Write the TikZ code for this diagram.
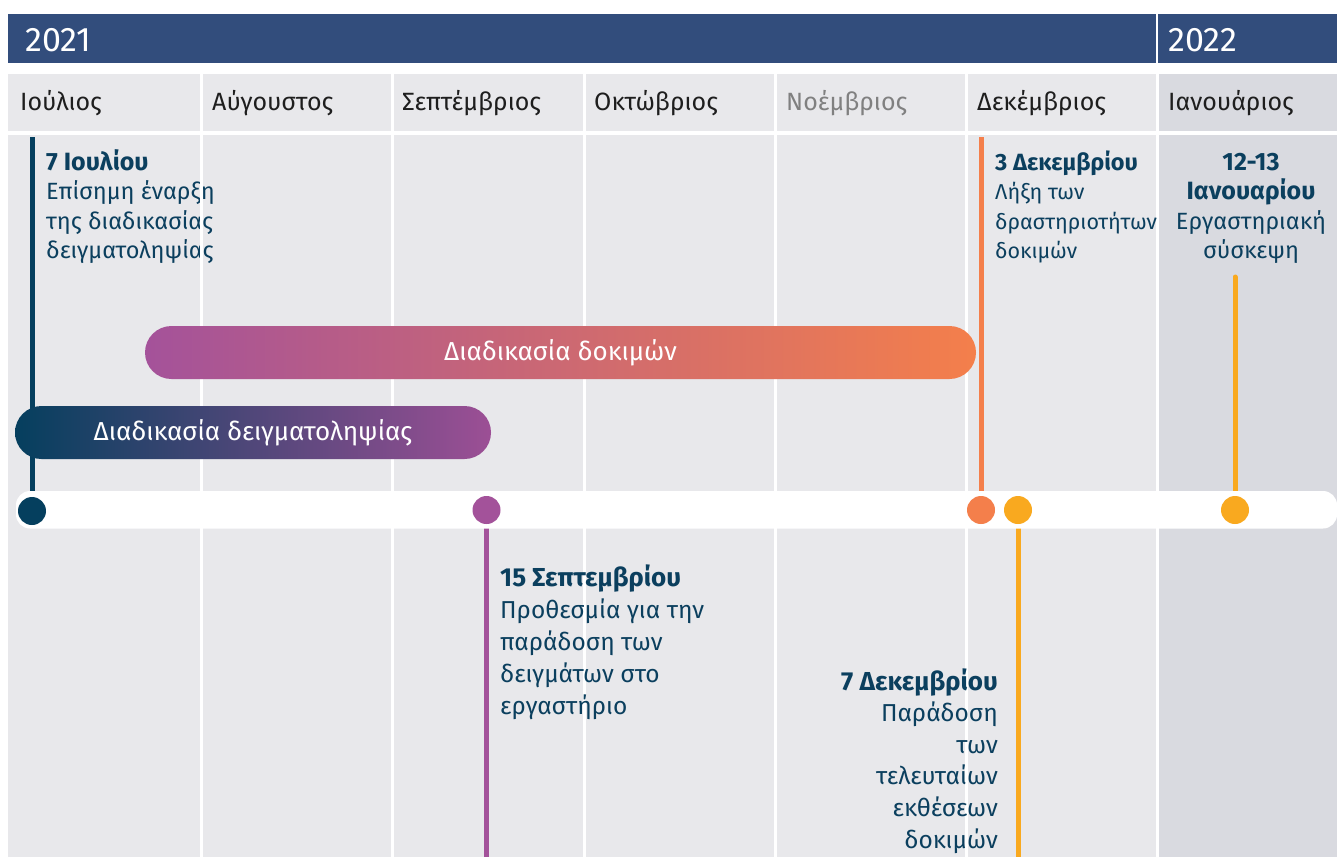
\documentclass[tikz,border=0pt]{standalone}
\usepackage{fontspec}
\setmainfont{Fira Sans}
\definecolor{hdr}{HTML}{324D7C}
\definecolor{bgc}{HTML}{E8E8EB}
\definecolor{janc}{HTML}{D9DAE0}
\definecolor{tdark}{HTML}{0B3F5E}
\definecolor{mtext}{HTML}{1E1E1E}
\definecolor{novtext}{HTML}{808080}
\definecolor{cdark}{HTML}{053F5E}
\definecolor{cpurple}{HTML}{A3529A}
\definecolor{corange}{HTML}{F47F4B}
\definecolor{cyellow}{HTML}{F9A91F}
\definecolor{bartwoR}{HTML}{9C4F95}
\definecolor{baroneL}{HTML}{A4529A}
\newcommand\blockL[2]{\vtop{\baselineskip=#1\lineskiplimit=-100pt\lineskip=0pt\halign{##\hfil\cr#2\crcr}}}
\newcommand\blockR[2]{\vtop{\baselineskip=#1\lineskiplimit=-100pt\lineskip=0pt\halign{\hfil##\cr#2\crcr}}}
\newcommand\blockC[2]{\vtop{\baselineskip=#1\lineskiplimit=-100pt\lineskip=0pt\halign{\hfil##\hfil\cr#2\crcr}}}
\newcommand\hdA[1]{{\fontsize{25}{29.5}\selectfont\bfseries #1}}
\newcommand\hdB[1]{{\fontsize{23.5}{29.5}\selectfont\bfseries #1}}
\newcommand\hdD[1]{{\fontsize{26}{32}\selectfont\bfseries #1}}
\begin{document}
\begin{tikzpicture}[x=1pt,y=-1pt,
  month/.style={anchor=base west, inner sep=0pt, text=mtext, font=\fontsize{25}{30}\selectfont},
  year/.style={anchor=base west, inner sep=0pt, text=white, font=\fontsize{34}{40}\selectfont},
  evtop/.style={inner sep=0pt, text=tdark, font=\fontsize{23.5}{29.5}\selectfont},
  evtopB/.style={inner sep=0pt, text=tdark, font=\fontsize{21.5}{29.5}\selectfont},
  evbot/.style={inner sep=0pt, text=tdark, font=\fontsize{24.5}{31.6}\selectfont},
  sepline/.style={white, line width=3pt},
  stem/.style={line width=5pt},
  dotnode/.style={circle, inner sep=0pt, minimum size=28pt},
  bar/.style={inner sep=0pt, rounded corners=26.5pt, minimum height=53pt, text=white, font=\fontsize{26}{30}\selectfont}]
\useasboundingbox (0,0) rectangle (1337,857);
% header bar
\fill[hdr] (8,14) rectangle (1337,62.5);
\draw[white, line width=2.5pt] (1157,14) -- (1157,62.5);
\node[year] (y21) at (25,51) {2021};
\node[year] (y22) at (1168,51) {2022};
% month row and body
\fill[bgc] (8,74) rectangle (1337,130.5);
\fill[janc] (1157,74) rectangle (1337,130.5);
\fill[bgc] (8,135) rectangle (1337,857);
\fill[janc] (1157,135) rectangle (1337,857);
\node[month] (m1) at (20,110) {Ιούλιος};
\node[month] (m2) at (212,110) {Αύγουστος};
\node[month] (m3) at (402,110) {Σεπτέμβριος};
\node[month] (m4) at (594,110) {Οκτώβριος};
\node[month, text=novtext] (m5) at (786,110) {Νοέμβριος};
\node[month] (m6) at (977,110) {Δεκέμβριος};
\node[month] (m7) at (1168,110) {Ιανουάριος};
% event text under the column separators
\node[evtop, anchor=base west] (tA) at (46,170) {\blockL{29.5pt}{\hdA{7 Ιουλίου}\cr Επίσημη έναρξη\cr της διαδικασίας\cr δειγματοληψίας}};
% column separators
\foreach \cx in {201,392,584,775,966,1157}
  \draw[sepline] (\cx,74) -- (\cx,857);
% other event texts
\node[evtopB, anchor=base west] (tB) at (995,170) {\blockL{29.5pt}{\hdB{3 Δεκεμβρίου}\cr Λήξη των\cr δραστηριοτήτων\cr δοκιμών}};
\node[evtop, anchor=base] (tC) at (1251,170) {\blockC{29.5pt}{\hdA{12-13}\cr \hdA{Ιανουαρίου}\cr Εργαστηριακή\cr σύσκεψη}};
\node[evbot, anchor=base west] (tD) at (500,586) {\blockL{32pt}{\hdD{15 Σεπτεμβρίου}\cr Προθεσμία για την\cr παράδοση των\cr δειγμάτων στο\cr εργαστήριο}};
\node[evbot, anchor=base east] (tE) at (998,690) {\blockR{31.6pt}{\hdD{7 Δεκεμβρίου}\cr Παράδοση\cr των\cr τελευταίων\cr εκθέσεων\cr δοκιμών}};
% event dots (positions) and stems
\coordinate (dA) at (32,511);
\coordinate (dD) at (486.5,510);
\coordinate (dB) at (981,510);
\coordinate (dE) at (1018,510);
\coordinate (dC) at (1235,510);
\coordinate (sA) at (32,137);
\coordinate (sB) at (981,137);
\coordinate (sC) at (1235,277);
\coordinate (sD) at (486.5,857);
\coordinate (sE) at (1018,857);
\draw[stem, cdark] (sA) -- (dA);
\draw[stem, corange] (sB) -- (dB);
\draw[stem, cyellow, line cap=round] (sC) -- (dC);
\draw[stem, cpurple] (dD) -- (sD);
\draw[stem, cyellow] (dE) -- (sE);
% bars
\node[bar, minimum width=831pt, left color=baroneL, right color=corange] (b1) at (560.5,352.5) {Διαδικασία δοκιμών};
\node[bar, minimum width=476pt, left color=cdark, right color=bartwoR] (b2) at (253,432.5) {Διαδικασία δειγματοληψίας};
% timeline band
\fill[white, rounded corners=14pt] (16,491) rectangle (1337,528.5);
% dots
\node[dotnode, fill=cdark] (nA) at (dA) {};
\node[dotnode, fill=cpurple] (nD) at (dD) {};
\node[dotnode, fill=corange] (nB) at (dB) {};
\node[dotnode, fill=cyellow] (nE) at (dE) {};
\node[dotnode, fill=cyellow] (nC) at (dC) {};
\end{tikzpicture}
\end{document}
